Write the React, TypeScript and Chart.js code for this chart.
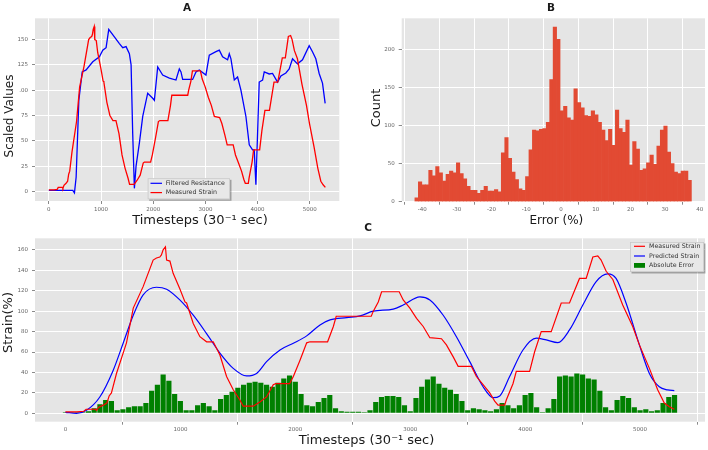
import React, { useEffect, useRef } from "react";
import { Chart, registerables } from "chart.js";
Chart.register(...registerables);

// ---------- data ----------
const measuredT = [0,100,160,180,260,270,290,330,360,380,400,444,531,590,676,763,792,821,835,850,870,880,909,937,995,1040,1054,1112,1170,1228,1286,1344,1402,1460,1518,1547,1634,1692,1750,1808,1830,1950,1983,2041,2099,2128,2281,2331,2356,2661,2679,2722,2751,2904,2939,2997,3055,3113,3171,3272,3315,3373,3417,3532,3576,3634,3692,3735,3764,3822,3836,3894,3923,4039,4082,4140,4227,4314,4386,4473,4531,4589,4632,4661,4705,4763,4849,4936,4994,5081,5153,5211,5255,5298];
const measuredV = [1.5,1.5,2,4,4,3,6,8,10,17,20,39,69,103,124,150,152,153,155,160,163,150,149,137,122,109,108,88,75,70,70,57,36,23,13,7,7,11,16,28,29,29,36,52,69,70,70,85,95,95,100,109,119,119,111,103,93,85,74,73,67,55.5,46,46,36,28,20,12,8,8,13,29,41,41,60,80,80,108,108,132,132,153,154,150,139,131,106,85,67,44,23,10,6.5,4];

const predictedT = [0,96,183,299,415,502,590,676,792,880,995,1112,1228,1344,1460,1576,1663,1750,1867,1983,2099,2215,2302,2447,2563,2679,2852,2939,3084,3171,3287,3402,3518,3634,3721,3779,3865,3981,4097,4184,4285,4386,4502,4618,4719,4791,4878,4994,5081,5167,5240,5298];
const predictedV = [1,0,3,16,42,68.6,96,116,123.4,121.5,111,96,78,59,44,36.6,39,50.6,62,68.6,75.8,86.5,91.4,93.7,95.3,100,102,106,114,111,96,75,50.6,26,15.3,17,36,62,73.5,71.8,69.2,81.6,106,129,136.5,132,108,67,39,26,22.9,22.2];

const resistanceT = [0,459,491,523,575,639,714,842,969,1033,1097,1148,1256,1352,1416,1480,1543,1576,1607,1639,1671,1735,1799,1894,1990,2022,2086,2181,2309,2436,2500,2532,2564,2755,2819,2883,3010,3074,3202,3266,3329,3425,3457,3489,3553,3616,3680,3776,3840,3903,3935,3967,3999,4031,4095,4127,4222,4286,4382,4446,4541,4605,4669,4764,4860,4988,5051,5115,5179,5243,5294];
const resistanceV = [1,1,-1.5,14,90,118,120,128,133,139.5,142,160,152.6,146,142,143,136,125,57,3,25,48,74,97,92,90,123,115,112,110,121,118,110.6,110.6,118,120,115,134.6,138,139.5,133,130,136,131,110,113,100,74,46,41,41,6.6,57,108,110,118,116,116.5,108,114,117,121,131,126,130,144,138,131,116.5,107,87];

const absErrorStep = 50;
const absErrorV = [1,1,1,1,2,5,9,13,12,3,4,6,7,7,10,22,28,38,32,19,12,3,3,8,10,7,3,14,18,21,25,28,30,31,30,28,26,30,34,37,31,19,8,7,11,15,18,5,2,1.5,1.5,1.5,1,3,11,16,17,17,16,8,2,15,26,33,36,29,25,23,19,12,3,5,4,3,2,4,10,8,5,8,18,20,6,1,5,14,36,37,36,39,38,34,33,22,6,3,13,17,15,6,3,4,2,3,10,16,18];

const errorBinStart = -42.1;
const errorBinWidth = 0.996;
const errorCounts = [5,26,22,22,41,34,46,38,27,36,40,38,51,37,30,20,15,15,11,15,20,14,14,16,13,64,84,57,39,29,17,15,33,68,94,93,95,96,104,160,229,213,119,125,110,107,148,130,123,113,112,119,114,104,94,80,95,74,120,96,91,107,48,79,69,41,43,51,61,49,73,94,99,65,50,39,37,40,40,28];

const timeTicks = [0, 1000, 2000, 3000, 4000, 5000];
const scaledTicks = [0, 25, 50, 75, 100, 125, 150];
const strainTicks = [0, 20, 40, 60, 80, 100, 120, 140, 160];
const errorTicks = [-40, -30, -20, -10, 0, 10, 20, 30, 40];
const countTicks = [0, 50, 100, 150, 200];

const FONT = '"DejaVu Sans", "Liberation Sans", sans-serif';
const XLABEL = "Timesteps (30\u207B\u00B9 sec)";

// ---------- helpers ----------
type TextItem = { text: string; x: number; y: number; size: number; bold?: boolean; rotate?: boolean; color?: string };
type LegendItem = { label: string; color: string; kind: "line" | "patch" };
type LegendBox = { x: number; y: number; w: number; h: number; markX: number; markW: number; textX: number; rows: number[]; items: LegendItem[] };

function decorPlugin(texts: TextItem[], legend?: LegendBox) {
  return {
    id: "decor",
    beforeDraw(chart: any) {
      const { ctx, chartArea: a } = chart;
      ctx.save();
      ctx.fillStyle = "#E5E5E5";
      ctx.fillRect(a.left, a.top, a.right - a.left, a.bottom - a.top);
      ctx.restore();
    },
    afterDraw(chart: any) {
      const ctx = chart.ctx as CanvasRenderingContext2D;
      for (const t of texts) {
        ctx.save();
        ctx.font = `${t.bold ? "bold " : ""}${t.size}px ${FONT}`;
        ctx.fillStyle = t.color || "#1a1a1a";
        ctx.textAlign = "center";
        ctx.textBaseline = "middle";
        ctx.translate(t.x, t.y);
        if (t.rotate) ctx.rotate(-Math.PI / 2);
        ctx.fillText(t.text, 0, 0);
        ctx.restore();
      }
      if (legend) {
        const L = legend;
        ctx.save();
        ctx.fillStyle = "rgba(0,0,0,0.3)";
        ctx.fillRect(L.x + 1.5, L.y + 1.5, L.w, L.h);
        ctx.fillStyle = "#E8E8E8";
        ctx.fillRect(L.x, L.y, L.w, L.h);
        ctx.strokeStyle = "#C8C8C8";
        ctx.lineWidth = 0.8;
        ctx.strokeRect(L.x + 0.4, L.y + 0.4, L.w - 0.8, L.h - 0.8);
        L.items.forEach((it, i) => {
          const y = L.rows[i];
          if (it.kind === "line") {
            ctx.strokeStyle = it.color;
            ctx.lineWidth = 1.2;
            ctx.beginPath();
            ctx.moveTo(L.markX, y);
            ctx.lineTo(L.markX + L.markW, y);
            ctx.stroke();
          } else {
            ctx.fillStyle = it.color;
            ctx.fillRect(L.markX, y - 2.4, L.markW, 4.8);
          }
          ctx.fillStyle = "#333";
          ctx.font = `6.3px ${FONT}`;
          ctx.textAlign = "left";
          ctx.textBaseline = "middle";
          ctx.fillText(it.label, L.textX, y);
        });
        ctx.restore();
      }
    },
  };
}

function axis(min: number, max: number, ticks: number[], horizontal: boolean, size: number, fmt?: (v: number) => string) {
  return {
    type: "linear",
    min,
    max,
    offset: false,
    afterBuildTicks: (s: any) => {
      s.ticks = ticks.map((v) => ({ value: v }));
    },
    afterFit: (s: any) => {
      if (horizontal) s.height = size;
      else s.width = size;
    },
    grid: { color: "#FFFFFF", lineWidth: 1, tickColor: "#8a8a8a", tickLength: 3, drawTicks: true },
    border: { display: false },
    ticks: {
      font: { family: FONT, size: 5.5 },
      color: "#666666",
      padding: horizontal ? 2 : 4,
      maxRotation: 0,
      autoSkip: false,
      callback: (v: any) => (fmt ? fmt(Number(v)) : String(v)),
    },
  };
}

function pts(xs: number[], ys: number[]) {
  return xs.map((x, i) => ({ x, y: ys[i] }));
}

type Props = { left: number; top: number; width: number; height: number; make: () => any };

function ChartBox({ left, top, width, height, make }: Props) {
  const ref = useRef<HTMLCanvasElement>(null);
  useEffect(() => {
    const chart = new Chart(ref.current as HTMLCanvasElement, make());
    return () => chart.destroy();
  }, []);
  return (
    <canvas
      ref={ref}
      width={width}
      height={height}
      style={{ position: "absolute", left, top, width, height, display: "block" }}
    />
  );
}

const baseOptions = (padding: any) => ({
  animation: false,
  responsive: false,
  maintainAspectRatio: false,
  events: [],
  layout: { padding },
  plugins: { legend: { display: false }, tooltip: { enabled: false }, title: { display: false } },
});

function makeA() {
  return {
    type: "line",
    data: {
      datasets: [
        { label: "Filtered Resistance", data: pts(resistanceT, resistanceV), borderColor: "#0000FF", borderWidth: 1.3, pointRadius: 0, tension: 0, order: 2 },
        { label: "Measured Strain", data: pts(measuredT, measuredV), borderColor: "#FF0000", borderWidth: 1.3, pointRadius: 0, tension: 0, order: 1 },
      ],
    },
    options: {
      ...baseOptions({ top: 18.3, right: 14.7, left: 0, bottom: 0 }),
      scales: {
        x: axis(-265, 5565, timeTicks, true, 35),
        y: axis(-9.5, 171, scaledTicks, false, 35, (v) => (v === 100 ? ".00" : String(v))),
      },
    },
    plugins: [
      decorPlugin(
        [
          { text: "A", x: 187, y: 8, size: 10.5, bold: true },
          { text: XLABEL, x: 200, y: 221, size: 13 },
          { text: "Scaled Values", x: 9.5, y: 116, size: 12, rotate: true },
        ],
        {
          x: 147.7, y: 178.3, w: 82.3, h: 21, markX: 150.5, markW: 11.5, textX: 165.7, rows: [183.3, 192.6],
          items: [
            { label: "Filtered Resistance", color: "#0000FF", kind: "line" },
            { label: "Measured Strain", color: "#FF0000", kind: "line" },
          ],
        }
      ),
    ],
  };
}

function makeB() {
  return {
    type: "bar",
    data: {
      datasets: [
        {
          label: "Count",
          data: errorCounts.map((c, i) => ({ x: errorBinStart + (i + 0.5) * errorBinWidth, y: c })),
          backgroundColor: "#E24A33",
          borderWidth: 0,
          barPercentage: 1,
          categoryPercentage: 1,
        },
      ],
    },
    options: {
      ...baseOptions({ top: 18.3, right: 3, left: 0, bottom: 0 }),
      scales: {
        x: axis(-45.9, 41.5, errorTicks, true, 34.3),
        y: axis(0, 240.5, countTicks, false, 47.7),
      },
    },
    plugins: [
      decorPlugin([
        { text: "B", x: 197, y: 8, size: 10.5, bold: true },
        { text: "Error (%)", x: 202.3, y: 220.5, size: 12 },
        { text: "Count", x: 22.7, y: 108, size: 13, rotate: true },
      ]),
    ],
  };
}

function makeC() {
  return {
    type: "line",
    data: {
      datasets: [
        { type: "line", label: "Measured Strain", data: pts(measuredT, measuredV), borderColor: "#FF0000", borderWidth: 1.2, pointRadius: 0, tension: 0, order: 1 },
        { type: "line", label: "Predicted Strain", data: pts(predictedT, predictedV), borderColor: "#0000FF", borderWidth: 1.2, pointRadius: 0, cubicInterpolationMode: "monotone", order: 2 },
        {
          type: "bar",
          label: "Absolute Error",
          data: absErrorV.map((v, i) => ({ x: i * absErrorStep, y: v })),
          backgroundColor: "#008000",
          borderWidth: 0,
          barPercentage: 0.9,
          categoryPercentage: 1,
          order: 3,
        },
      ],
    },
    options: {
      ...baseOptions({ top: 16.3, right: 3, left: 0, bottom: 0 }),
      scales: {
        x: axis(-265, 5565, timeTicks, true, 28.3),
        y: axis(-8.2, 171.3, strainTicks, false, 35),
      },
    },
    plugins: [
      decorPlugin(
        [
          { text: "C", x: 368, y: 6, size: 10.5, bold: true },
          { text: XLABEL, x: 366.5, y: 218.5, size: 13 },
          { text: "Strain(%)", x: 8.7, y: 100.5, size: 13, rotate: true },
        ],
        {
          x: 630, y: 20, w: 74, h: 30, markX: 634, markW: 11, textX: 649, rows: [24.3, 34, 43.4],
          items: [
            { label: "Measured Strain", color: "#FF0000", kind: "line" },
            { label: "Predicted Strain", color: "#0000FF", kind: "line" },
            { label: "Absolute Error", color: "#008000", kind: "patch" },
          ],
        }
      ),
    ],
  };
}

export default function App() {
  return (
    <div style={{ position: "absolute", left: 0, top: 0, width: 708, height: 450, background: "#FFFFFF", overflow: "hidden" }}>
      <ChartBox left={0} top={0} width={354} height={236} make={makeA} />
      <ChartBox left={354} top={0} width={354} height={236} make={makeB} />
      <ChartBox left={0} top={222} width={708} height={228} make={makeC} />
    </div>
  );
}
